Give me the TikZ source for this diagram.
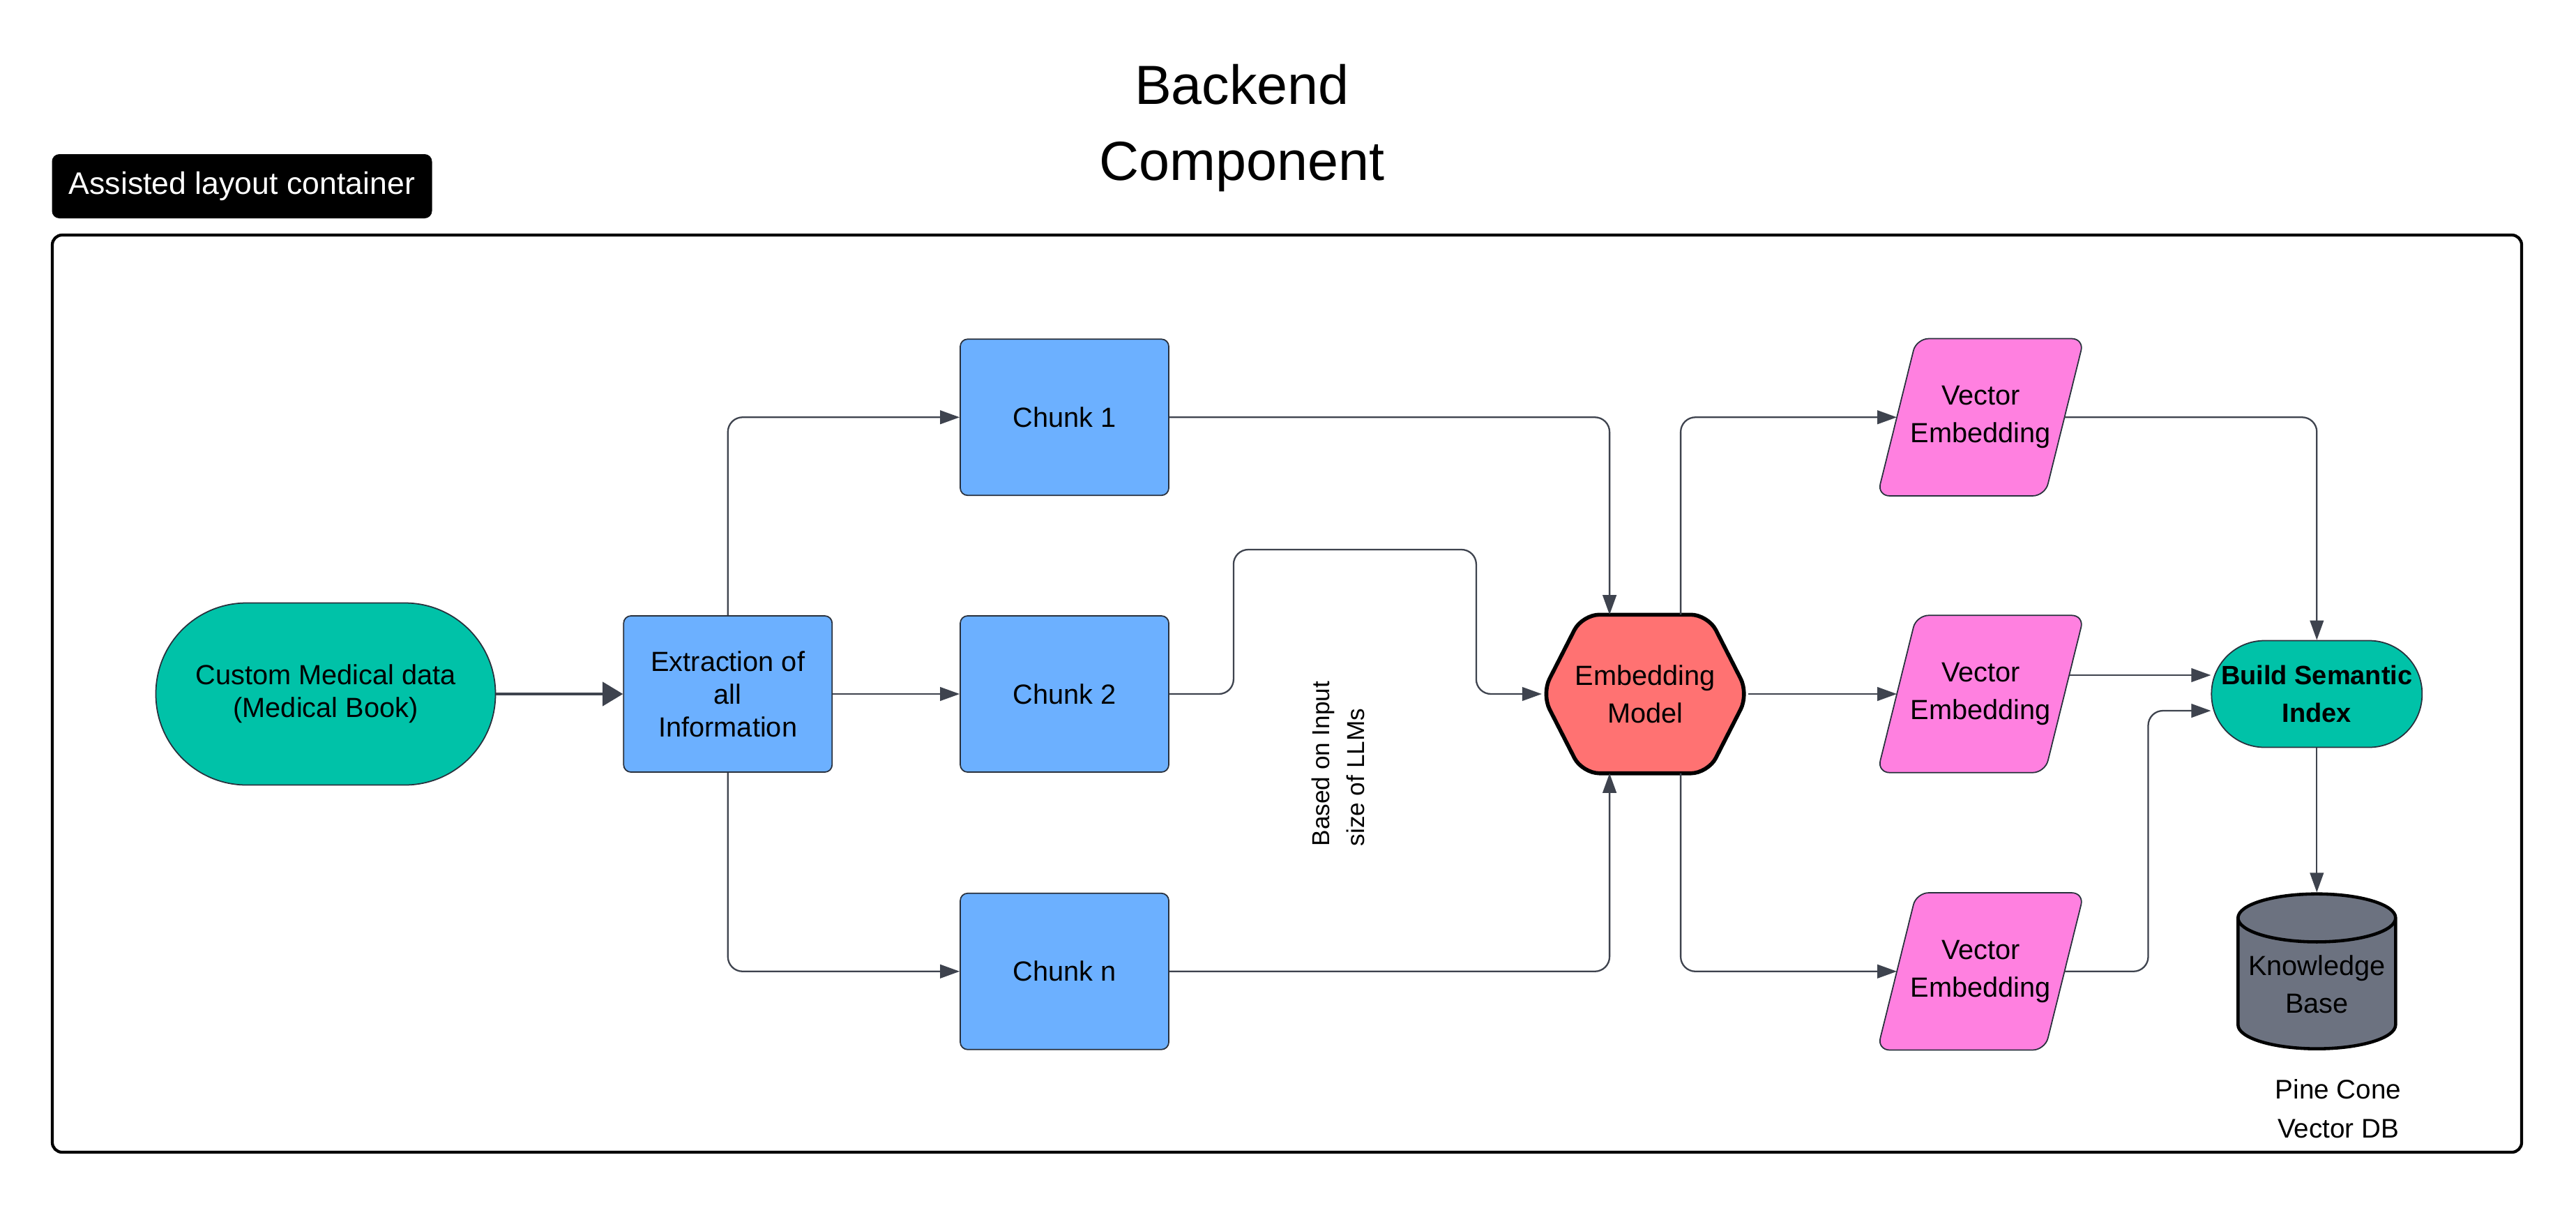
\documentclass[tikz,border=0pt]{standalone}
\usepackage{fontspec}
\setmainfont{Liberation Sans}
\usetikzlibrary{positioning,shapes.geometric,arrows.meta,backgrounds}

\definecolor{tealfill}{RGB}{0,194,168}
\definecolor{chunkblue}{RGB}{108,176,255}
\definecolor{hexred}{RGB}{255,114,114}
\definecolor{vecpink}{RGB}{255,128,224}
\definecolor{dbgray}{RGB}{108,114,128}
\definecolor{linegray}{RGB}{62,67,78}
\definecolor{edgegray}{RGB}{40,48,60}

\tikzset{
	basenode/.style = {align=center, inner sep=0pt, text centered, font=\fontsize{11.3}{15.3}\selectfont},
	stadium/.style = {basenode, rectangle, fill=tealfill, draw=edgegray, line width=0.5pt},
	procbox/.style = {basenode, rectangle, rounded corners=3pt, fill=chunkblue, draw=edgegray, line width=0.5pt, minimum width=2.99cm, minimum height=2.24cm, font=\fontsize{11.3}{13.4}\selectfont},
	hexnode/.style = {basenode, rectangle, minimum width=2.95cm, minimum height=2.26cm},
	hexline/.style = {fill=hexred, draw=black, line width=1.6pt, rounded corners=7pt},
	vecnode/.style = {basenode, rectangle, minimum width=2.95cm, minimum height=2.24cm},
	vecline/.style = {fill=vecpink, draw=edgegray, line width=0.5pt, rounded corners=5pt},
	dbnode/.style = {basenode, cylinder, shape border rotate=90, aspect=0.35, fill=dbgray, draw=black, line width=1.3pt, minimum width=2.26cm, minimum height=2.22cm},
	conn/.style = {draw=linegray, line width=0.65pt, rounded corners=6pt, -{Triangle[length=8pt,width=5.6pt]}},
	mainconn/.style = {draw=linegray, line width=1.4pt, -{Triangle[length=8.3pt,width=9.6pt]}},
	note/.style = {inner sep=0pt, font=\fontsize{10}{14}\selectfont, align=left},
	dbnote/.style = {inner sep=0pt, font=\fontsize{11}{16}\selectfont, align=center},
	headline/.style = {inner sep=0pt, align=center, font=\fontsize{22.5}{31}\selectfont},
	tagbox/.style = {fill=black, text=white, rounded corners=3pt, minimum width=5.45cm, minimum height=0.92cm, inner sep=0pt, font=\fontsize{12.7}{15}\selectfont},
	containerframe/.style = {draw=black, line width=1.2pt, rounded corners=4pt, minimum width=35.41cm, minimum height=13.15cm, inner sep=0pt}
}

\begin{document}
\begin{tikzpicture}
\useasboundingbox (0,0) rectangle (36.94,-17.31);
\begin{scope}[on background layer]
\fill[white] (0,0) rectangle (36.94,-17.31);
\end{scope}

\node [headline] (head) at (17.81,-1.84) {Backend\\Component};
\node [tagbox] (tag) at (3.47,-2.67) {Assisted layout container};
\node [containerframe] (box) at (18.455,-9.945) {};

% left part
\node [stadium, rounded corners=1.3cm, minimum width=4.87cm, minimum height=2.61cm, font=\fontsize{11.3}{13.4}\selectfont] (custom) at (4.67,-9.95) {Custom Medical data\\(Medical Book)};
\node [procbox, right=1.82cm of custom] (extract) {Extraction of\\all\\Information};
\node [procbox, right=1.82cm of extract] (chunk2) {Chunk 2};
\node [procbox, above=1.71cm of chunk2] (chunk1) {Chunk 1};
\node [procbox, below=1.72cm of chunk2] (chunkn) {Chunk n};
\node [note, rotate=90] (llm) at (19.19,-10.95) {Based on Input\\size of LLMs};

% embedding
\node [hexnode, right=5.34cm of chunk2] (emb) {Embedding\\Model};
\begin{scope}[on background layer]
\draw [hexline] (emb.north) -- ([xshift=-0.58cm]emb.north east) -- (emb.east)
	-- ([xshift=-0.58cm]emb.south east) -- ([xshift=0.58cm]emb.south west)
	-- (emb.west) -- ([xshift=0.58cm]emb.north west) -- (emb.north);
\end{scope}

% right part
\node [vecnode] (ve2) at ([xshift=3.33cm]emb.east) {Vector\\Embedding};
\node [vecnode] (ve1) at (ve2 |- chunk1) {Vector\\Embedding};
\node [vecnode] (ve3) at (ve2 |- chunkn) {Vector\\Embedding};
\begin{scope}[on background layer]
\foreach \v in {ve1,ve2,ve3}
	\draw [vecline] (\v.south) -- ([xshift=-0.56cm]\v.south east) -- (\v.north east)
		-- ([xshift=0.56cm]\v.north west) -- (\v.south west) -- (\v.south);
\end{scope}
\node [stadium, rounded corners=0.76cm, minimum width=3.02cm, minimum height=1.53cm, font=\fontsize{10.8}{15.4}\selectfont\bfseries] (bsi) at ([xshift=4.82cm]ve2.center) {Build Semantic\\Index};
\node [dbnode, below=2.07cm of bsi] (kb) {Knowledge\\Base};
\node [dbnote] (pine) at (33.53,-15.90) {Pine Cone\\Vector DB};

% connectors
\draw [mainconn] (custom) -- (extract);
\draw [conn] (extract.north) |- (chunk1);
\draw [conn] (extract) -- (chunk2);
\draw [conn] (extract.south) |- (chunkn);
\draw [conn] (chunk1) -| ([xshift=-0.51cm]emb.north);
\draw [conn] (chunk2.east) -- ++(0.92,0) -- ++(0,2.07) -- ++(3.48,0) -- ++(0,-2.07) -- (emb.west);
\draw [conn] (chunkn) -| ([xshift=-0.51cm]emb.south);
\draw [conn] ([xshift=0.51cm]emb.north) |- ([xshift=0.28cm]ve1.west);
\draw [conn] (emb) -- ([xshift=0.28cm]ve2.west);
\draw [conn] ([xshift=0.51cm]emb.south) |- ([xshift=0.28cm]ve3.west);
\draw [conn] ([xshift=-0.28cm]ve1.east) -| (bsi);
\draw [conn] ([xshift=-0.21cm,yshift=0.27cm]ve2.east) -- ([yshift=0.27cm]bsi.west);
\draw [conn] ([xshift=-0.28cm]ve3.east) -- ++(1.2,0) |- ([yshift=-0.24cm]bsi.west);
\draw [conn] (bsi) -- (kb);
\end{tikzpicture}
\end{document}
